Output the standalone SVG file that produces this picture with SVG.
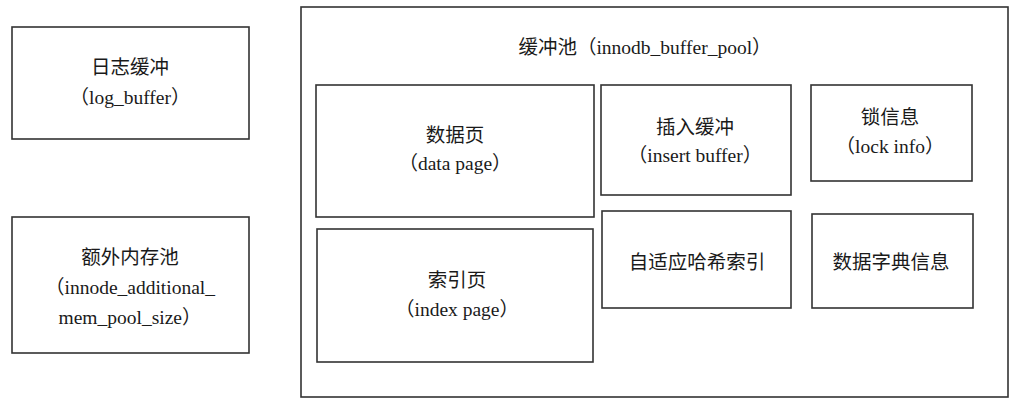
<svg xmlns="http://www.w3.org/2000/svg" width="1031" height="417" viewBox="0 0 1031 417">
<style>
rect{fill:none;stroke:#333;stroke-width:1.6}
text{font-family:"Liberation Serif","Noto Sans CJK SC",serif;font-size:19.5px;fill:#1a1a1a;text-anchor:middle}
</style>
<rect x="0" y="0" width="1031" height="417" fill="#fff" style="fill:#fff;stroke:none"/>
<g id="log_buffer">
<rect x="12" y="27" width="237" height="112"/>
<text x="130" y="74">日志缓冲</text>
<text x="130" y="104">（log_buffer）</text>
</g>
<g id="additional_pool">
<rect x="12" y="217" width="237" height="136"/>
<text x="130" y="264">额外内存池</text>
<text x="130" y="294">（innode_additional_</text>
<text x="130" y="324">mem_pool_size）</text>
</g>
<g id="buffer_pool">
<rect x="301" y="7" width="707" height="390"/>
<text x="645" y="54">缓冲池（innodb_buffer_pool）</text>
</g>
<g id="data_page">
<rect x="316" y="85" width="278" height="132"/>
<text x="455" y="142">数据页</text>
<text x="455" y="170">（data page）</text>
</g>
<g id="index_page">
<rect x="317" y="229" width="276" height="133"/>
<text x="457" y="287">索引页</text>
<text x="457" y="316">（index page）</text>
</g>
<g id="insert_buffer">
<rect x="601" y="85" width="190" height="110"/>
<text x="695" y="134">插入缓冲</text>
<text x="695" y="162">（insert buffer）</text>
</g>
<g id="adaptive_hash">
<rect x="602" y="211" width="189" height="97"/>
<text x="697" y="269">自适应哈希索引</text>
</g>
<g id="lock_info">
<rect x="811" y="85" width="161" height="96"/>
<text x="890" y="124">锁信息</text>
<text x="890" y="153">（lock info）</text>
</g>
<g id="dictionary">
<rect x="812" y="214" width="161" height="94"/>
<text x="891" y="269">数据字典信息</text>
</g>
<g id="connectors"/>
</svg>
